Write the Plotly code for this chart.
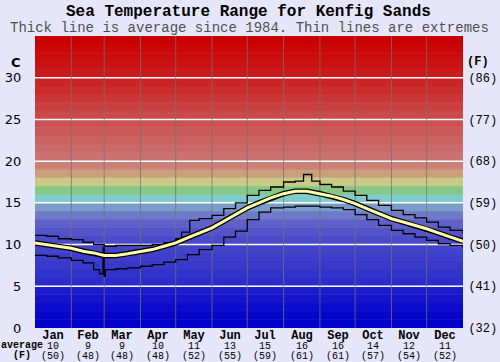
import plotly.graph_objects as go

# ---- data ----
months = ["Jan", "Feb", "Mar", "Apr", "May", "Jun", "Jul", "Aug", "Sep", "Oct", "Nov", "Dec"]
month_avg_c = ["10", "9", "9", "10", "11", "13", "15", "16", "16", "14", "12", "11"]
month_avg_f = ["(50)", "(48)", "(48)", "(48)", "(52)", "(55)", "(59)", "(61)", "(61)", "(57)", "(54)", "(52)"]
month_starts = [0, 31, 59, 90, 120, 151, 181, 212, 243, 273, 304, 334, 365]

avg_days = [0, 10, 20, 31, 41, 50, 59, 69, 79, 90, 100, 110, 120, 130, 140, 151, 161, 171, 181,
            191, 201, 212, 222, 232, 243, 253, 263, 273, 283, 293, 304, 314, 324, 334, 344, 354, 365]
avg_temp = [10.2, 10.0, 9.8, 9.55, 9.2, 9.0, 8.7, 8.7, 8.9, 9.2, 9.4, 9.8, 10.2, 10.8, 11.4, 12.0,
            12.8, 13.6, 14.4, 15.0, 15.6, 16.1, 16.4, 16.4, 16.1, 15.8, 15.4, 14.9, 14.3, 13.7,
            13.1, 12.7, 12.3, 11.9, 11.4, 10.9, 10.4]

max_days = [0, 10, 20, 31, 41, 50, 59, 69, 79, 90, 100, 110, 120, 125, 132, 140, 151, 161, 171,
            181, 191, 201, 212, 222, 229, 236, 243, 253, 263, 273, 283, 293, 304, 314, 324, 334,
            344, 354, 365]
max_temp = [11.1, 11.0, 10.7, 10.6, 10.3, 10.0, 9.8, 9.9, 9.9, 9.9, 10.0, 10.2, 10.7, 11.5, 12.9,
            13.1, 13.5, 14.3, 15.0, 15.9, 16.5, 16.9, 17.5, 17.6, 18.4, 17.6, 17.2, 16.9, 16.4,
            15.9, 15.3, 14.7, 14.1, 13.6, 13.2, 12.7, 12.1, 11.7, 11.3]

min_days = [0, 10, 20, 31, 41, 50, 55, 57, 58, 59, 60, 69, 79, 90, 100, 110, 120, 130, 140, 151,
            161, 171, 181, 191, 201, 212, 222, 232, 243, 253, 263, 273, 283, 293, 304, 314, 324,
            334, 344, 354, 365]
min_temp = [8.7, 8.6, 8.4, 8.1, 7.8, 7.0, 6.5, 6.5, 9.6, 6.2, 7.0, 7.1, 7.2, 7.4, 7.6, 7.9, 8.2,
            8.8, 9.4, 9.9, 10.9, 11.6, 13.0, 13.9, 14.4, 14.5, 14.6, 14.6, 14.5, 14.4, 14.2, 13.6,
            13.0, 12.3, 11.7, 11.3, 10.9, 10.5, 10.1, 9.9, 9.65]

left_ticks = [0, 5, 10, 15, 20, 25, 30]
right_ticks = [32, 41, 50, 59, 68, 77, 86]
right_text = ["(32)", "(41)", "(50)", "(59)", "(68)", "(77)", "(86)"]

band_colors = ["#0202CA", "#0606CA", "#0C0CCA", "#1414CA", "#1C1CCA", "#2C2CCA", "#3232CA",
               "#3838CA", "#3E3ECA", "#4444CA", "#4A4ACA", "#5454CA", "#6060CA", "#6E7ACA",
               "#7A9CC8", "#80CCCC", "#84C884", "#CACA86", "#CAA07C", "#CA8274", "#CA7272",
               "#CA6A6A", "#CA6262", "#CA5A5A", "#CA5252", "#CA4A4A", "#CA4040", "#CA3636",
               "#CA2C2C", "#CA2424", "#CA1C1C", "#CA1414", "#CA0C0C", "#CA0606", "#CA0000"]

BG = "#E6E6FA"
MONO = "Liberation Mono, Courier New, monospace"

fig = go.Figure()

shapes = []
for i, c in enumerate(band_colors):
    shapes.append(dict(type="rect", xref="paper", yref="y", x0=0, x1=1, y0=i,
                       y1=i + 1 + (0.06 if i < len(band_colors) - 1 else 0),
                       fillcolor=c, line=dict(width=0), layer="below"))
for t in left_ticks[1:]:
    shapes.append(dict(type="line", xref="paper", yref="y", x0=0, x1=1, y0=t, y1=t,
                       line=dict(color="white", width=1.5), layer="below"))
for d in month_starts[1:-1]:
    shapes.append(dict(type="line", xref="x", yref="paper", x0=d, x1=d, y0=0, y1=1,
                       line=dict(color="rgba(115,115,115,0.75)", width=1), layer="below"))

fig.add_trace(go.Scatter(x=max_days, y=max_temp, mode="lines", line=dict(color="black", width=1.3, shape="hv"),
                         hoverinfo="skip", showlegend=False))
fig.add_trace(go.Scatter(x=min_days, y=min_temp, mode="lines", line=dict(color="black", width=1.3, shape="hv"),
                         hoverinfo="skip", showlegend=False))
fig.add_trace(go.Scatter(x=avg_days, y=avg_temp, mode="lines", line=dict(color="black", width=5.5),
                         hoverinfo="skip", showlegend=False))
fig.add_trace(go.Scatter(x=avg_days, y=avg_temp, mode="lines", line=dict(color="#FFFFA8", width=3),
                         hoverinfo="skip", showlegend=False))
fig.add_trace(go.Scatter(x=[0], y=[32], yaxis="y2", mode="markers", marker=dict(opacity=0),
                         hoverinfo="skip", showlegend=False))


def px_x(px):
    return (px - 35) / 428.0


def px_y(py):
    return (328 - py) / 292.0


annotations = []
for i, m in enumerate(months):
    mid = (month_starts[i] + month_starts[i + 1]) / 2
    txt = ("<b><span style='font-size:12px'>%s</span></b><br>"
           "<span style='font-size:10px'>%s</span><br>"
           "<span style='font-size:10px'>%s</span>") % (m, month_avg_c[i], month_avg_f[i])
    annotations.append(dict(x=mid, y=px_y(327.5), xref="x", yref="paper", text=txt,
                            showarrow=False, font=dict(family=MONO, size=7.6, color="black"),
                            yanchor="top", xanchor="center", borderpad=0))

annotations += [
    dict(x=px_x(22), y=px_y(338.5), xref="paper", yref="paper",
         text="<b><span style='font-size:10px'>average</span><br><span style='font-size:10px'>(F)</span></b>",
         showarrow=False, font=dict(family=MONO, size=7.4, color="black"),
         yanchor="top", xanchor="center", borderpad=0),
    dict(x=px_x(23), y=px_y(62), xref="paper", yref="paper", text="<b>C</b>", showarrow=False,
         font=dict(family="DejaVu Sans", size=13, color="black"), yanchor="middle", xanchor="right"),
    dict(x=px_x(478), y=px_y(62), xref="paper", yref="paper", text="<b>(F)</b>", showarrow=False,
         font=dict(family=MONO, size=12, color="black"), yanchor="middle", xanchor="center"),
    dict(x=px_x(248), y=px_y(12), xref="paper", yref="paper",
         text="<b>Sea Temperature Range for Kenfig Sands</b>", showarrow=False,
         font=dict(family=MONO, size=16, color="black"), yanchor="middle", xanchor="center"),
    dict(x=px_x(249), y=px_y(28), xref="paper", yref="paper",
         text="Thick line is average since 1984. Thin lines are extremes", showarrow=False,
         font=dict(family=MONO, size=14, color="#505050"), yanchor="middle", xanchor="center"),
]

fig.update_layout(
    width=500, height=362,
    margin=dict(l=35, r=37, t=36, b=34, autoexpand=False),
    paper_bgcolor=BG, plot_bgcolor=BG,
    shapes=shapes, annotations=annotations,
    showlegend=False,
    xaxis=dict(range=[0, 365], showgrid=False, zeroline=False, showticklabels=False, ticks="",
               fixedrange=True, automargin=False),
    yaxis=dict(range=[0, 35], tickvals=left_ticks, ticktext=[str(t) for t in left_ticks],
               showgrid=False, zeroline=False, ticks="outside", ticklen=10, automargin=False,
               tickcolor="rgba(0,0,0,0)", tickfont=dict(family="DejaVu Sans", size=13, color="black")),
    yaxis2=dict(range=[32, 95], overlaying="y", side="right", tickvals=right_ticks, ticktext=right_text,
                showgrid=False, zeroline=False, ticks="outside", ticklen=2, tickcolor="rgba(0,0,0,0)",
                automargin=False, tickfont=dict(family=MONO, size=12, color="black")),
)

fig.write_html("out.html", config={"displayModeBar": False},
               post_script="document.body.style.margin='0';document.body.style.padding='0';")
